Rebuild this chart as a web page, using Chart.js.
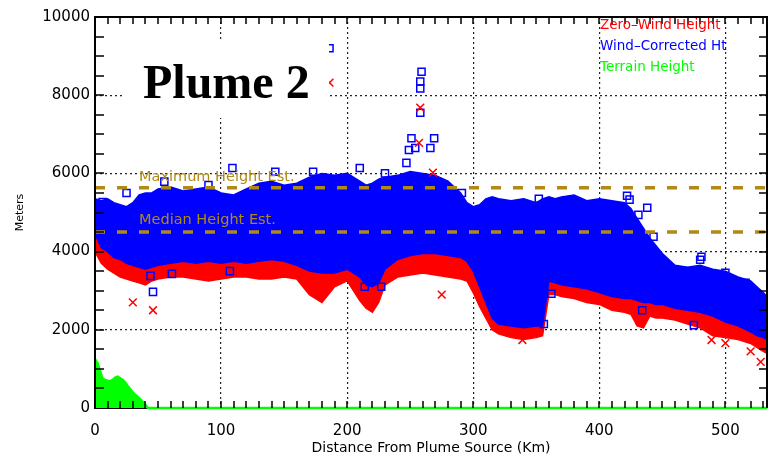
<!DOCTYPE html>
<html>
<head>
<meta charset="utf-8">
<script src="https://cdn.jsdelivr.net/npm/chart.js@4.4.1/dist/chart.umd.min.js"></script>
<style>
html, body { margin: 0; padding: 0; background: #fff; }
</style>
</head>
<body>
<canvas id="plume" width="768" height="459"></canvas>
<script>
// distances (km) where the edges of the point cloud were read
const dist = [0,5,10,15,20,25,30,35,40,45,50,60,70,80,90,100,110,120,130,140,150,160,170,180,190,200,210,215,220,225,230,240,250,260,270,280,290,295,300,305,310,315,320,330,340,350,355,360,365,370,380,390,400,410,420,425,430,435,440,445,450,460,470,480,490,500,510,520,525,530,533];

// wind-corrected heights: top and bottom of the dense blue cloud (m)
const windTop = [5350,5300,5350,5250,5200,5150,5250,5450,5500,5500,5600,5650,5550,5600,5650,5500,5450,5600,5750,5800,5700,5750,5900,6000,5950,6000,5800,5700,5750,5850,5900,5950,6050,6000,5950,5800,5500,5250,5150,5200,5350,5400,5350,5300,5350,5250,5350,5400,5350,5400,5450,5300,5350,5300,5250,5100,4850,4600,4350,4150,3950,3650,3600,3650,3550,3500,3350,3250,3100,2950,2850];
const windBottom = [4450,4100,4000,3850,3800,3700,3650,3600,3550,3600,3650,3700,3750,3700,3750,3700,3750,3700,3750,3800,3750,3650,3500,3450,3450,3550,3350,3150,3100,3200,3550,3800,3900,3950,3950,3900,3850,3750,3500,3100,2700,2300,2150,2100,2050,2100,2100,3250,3200,3150,3100,3050,2950,2850,2800,2800,2750,2700,2700,2650,2650,2550,2500,2450,2350,2200,2100,1950,1850,1800,1750];
// zero-wind heights: lower edge of the red cloud (m)
const zeroBottom = [4000,3700,3550,3450,3350,3300,3250,3200,3150,3250,3300,3350,3350,3300,3250,3300,3350,3350,3300,3300,3350,3300,2900,2700,3100,3250,2750,2550,2450,2700,3150,3350,3400,3450,3400,3350,3300,3250,2950,2600,2300,2000,1900,1800,1750,1800,1850,2900,2900,2850,2800,2700,2650,2500,2450,2400,2100,2050,2350,2300,2300,2250,2150,2050,1850,1800,1750,1650,1550,1450,1400];

// isolated wind-corrected points
const windOutX = [6,25,55,90,109,143,173,186,210,230,247,249,251,254,258,258,258,259,266,269,291,352,393,404,422,424,431,438,443,467,480,481,500,508,516,46,44,61,107,214,227,306,318,356,362,434,475];
const windOutY = [5270,5500,5790,5700,6140,6040,6040,9200,6140,6000,6270,6600,6900,6650,7550,8170,8350,8600,6650,6900,5500,5350,5200,4990,5430,5330,4940,5120,4380,3500,3790,3870,3460,3230,3200,2970,3380,3430,3500,3100,3100,3530,2380,2150,2920,2500,2120];
// isolated zero-wind points
const zeroOutX = [30,46,186,258,257,268,275,339,489,500,520,528];
const zeroOutY = [2700,2500,8320,7680,6780,6020,2900,1740,1740,1660,1450,1180];

// terrain height
const terrDist = [0,2,4,6,8,10,12,14,16,18,20,22,24,26,28,30,32,34,36,38,40,42,533];
const terrHt = [1250,1150,950,750,720,700,690,720,780,800,760,720,650,560,480,400,330,280,220,150,80,0,0];

// height estimates (m)
const maxHeightEst = 5630;
const medianHeightEst = 4500;

const xTicks = [0,100,200,300,400,500];
const xMax = 533;

const BLUE = '#0000ff', RED = '#ff0000', GREEN = '#00ff00', GOLD = '#b08a14';

let pts = (xs, ys) => xs.map((v, i) => ({x: v, y: ys[i]}));

let frame = {
    id: 'frame',
    afterDraw(chart) {
        const {ctx, chartArea: a, scales: {x, y}} = chart;
        ctx.save();
        // axis box
        ctx.strokeStyle = '#000';
        ctx.lineWidth = 2;
        ctx.beginPath();
        ctx.moveTo(a.left, a.bottom); ctx.lineTo(a.left, a.top);
        ctx.lineTo(a.right, a.top); ctx.lineTo(a.right, a.bottom);
        ctx.stroke();
        // inward ticks
        ctx.lineWidth = 1.5;
        ctx.beginPath();
        for (let v = 10; v < xMax; v += 10) {
            const px = Math.round(x.getPixelForValue(v));
            ctx.moveTo(px, a.bottom); ctx.lineTo(px, a.bottom - 7);
            ctx.moveTo(px, a.top); ctx.lineTo(px, a.top + 7);
        }
        for (let v = 500; v < 10000; v += 500) {
            const py = Math.round(y.getPixelForValue(v));
            ctx.moveTo(a.left, py); ctx.lineTo(a.left + 9, py);
            ctx.moveTo(a.right, py); ctx.lineTo(a.right - 8, py);
        }
        ctx.stroke();

        // title box
        ctx.fillStyle = '#fff';
        ctx.fillRect(123, 40, 206, 78);
        ctx.fillStyle = '#000';
        ctx.font = 'bold 48px "Liberation Serif"';
        ctx.textBaseline = 'alphabetic';
        ctx.fillText('Plume 2', 143, 98);

        // legend
        ctx.font = '13.5px "DejaVu Sans"';
        ctx.fillStyle = RED;   ctx.fillText('Zero\u2013Wind Height', 600, 29);
        ctx.fillStyle = BLUE;  ctx.fillText('Wind\u2013Corrected Ht', 600, 50);
        ctx.fillStyle = GREEN; ctx.fillText('Terrain Height', 600, 71);

        // estimate labels
        ctx.font = '14.5px "DejaVu Sans"';
        ctx.fillStyle = GOLD;
        ctx.fillText('Maximum Height Est.', 139, 181);
        ctx.fillText('Median Height Est.', 139, 224);
        ctx.restore();
    }
};

let gridColor = (c) => {
    const v = c.tick ? c.tick.value : null;
    return (v === 0 || v === 10000) ? 'rgba(0,0,0,0)' : '#222';
};

let plumeChart = new Chart("plume", {
    type: "line",
    data: {
        datasets: [
            {
                label: 'Wind-Corrected top',
                data: pts(dist, windTop),
                borderColor: BLUE, backgroundColor: BLUE, borderWidth: 1.5,
                pointRadius: 0, fill: '+1', order: 5
            },
            {
                label: 'Wind-Corrected bottom',
                data: pts(dist, windBottom),
                borderColor: BLUE, borderWidth: 1.5,
                pointRadius: 0, fill: false, order: 5
            },
            {
                label: 'Zero-Wind bottom',
                data: pts(dist, zeroBottom),
                borderColor: RED, backgroundColor: RED, borderWidth: 1.5,
                pointRadius: 0, fill: '-1', order: 6
            },
            {
                label: 'Terrain Height',
                data: pts(terrDist, terrHt),
                borderColor: GREEN, backgroundColor: GREEN, borderWidth: 2.5,
                pointRadius: 0, fill: 'origin', order: 7, clip: 4
            },
            {
                label: 'Wind-Corrected Ht',
                type: 'scatter',
                data: pts(windOutX, windOutY),
                pointStyle: 'rect', pointRadius: 5, borderWidth: 1.5,
                borderColor: BLUE, backgroundColor: 'rgba(0,0,0,0)', order: 3
            },
            {
                label: 'Zero-Wind Height',
                type: 'scatter',
                data: pts(zeroOutX, zeroOutY),
                pointStyle: 'crossRot', pointRadius: 5.5, borderWidth: 1.5,
                borderColor: RED, order: 2
            },
            {
                label: 'Maximum Height Est.',
                data: [{x: 0, y: maxHeightEst}, {x: xMax, y: maxHeightEst}],
                borderColor: GOLD, borderWidth: 3.5, borderDash: [10, 12],
                pointRadius: 0, fill: false, order: 1
            },
            {
                label: 'Median Height Est.',
                data: [{x: 0, y: medianHeightEst}, {x: xMax, y: medianHeightEst}],
                borderColor: GOLD, borderWidth: 3.5, borderDash: [10, 12],
                pointRadius: 0, fill: false, order: 1
            }
        ]
    },
    options: {
        responsive: false,
        animation: false,
        events: [],
        layout: { autoPadding: false, padding: { top: 17, right: 1, left: 0, bottom: 0 } },
        elements: { line: { tension: 0 } },
        plugins: {
            legend: { display: false },
            tooltip: { enabled: false }
        },
        scales: {
            x: {
                type: 'linear',
                min: 0,
                max: xMax,
                afterBuildTicks: (s) => { s.ticks = xTicks.map(v => ({value: v})); },
                afterFit: (s) => { s.height = 51; },
                grid: { color: gridColor, lineWidth: 1.2, drawTicks: false },
                border: { display: true, color: '#000', width: 2, dash: [2, 3] },
                ticks: {
                    color: '#000', padding: 14, maxRotation: 0,
                    callback: (v) => String(v),
                    font: { family: 'DejaVu Sans', size: 15 }
                },
                title: {
                    display: true,
                    text: 'Distance From Plume Source (Km)',
                    color: '#000',
                    font: { family: 'DejaVu Sans', size: 14 },
                    padding: { top: 0, bottom: 2 }
                }
            },
            y: {
                min: 0,
                max: 10000,
                afterFit: (s) => { s.width = 95; },
                grid: { color: gridColor, lineWidth: 1.2, drawTicks: false },
                border: { display: false, dash: [2, 3] },
                ticks: {
                    stepSize: 2000, color: '#000', padding: 5,
                    callback: (v) => String(v),
                    font: { family: 'DejaVu Sans', size: 15 }
                },
                title: {
                    display: true,
                    text: 'Meters',
                    color: '#000',
                    font: { family: 'DejaVu Sans', size: 11 },
                    padding: { top: 14, bottom: 0 }
                }
            }
        }
    },
    plugins: [frame]
});
</script>
</body>
</html>
